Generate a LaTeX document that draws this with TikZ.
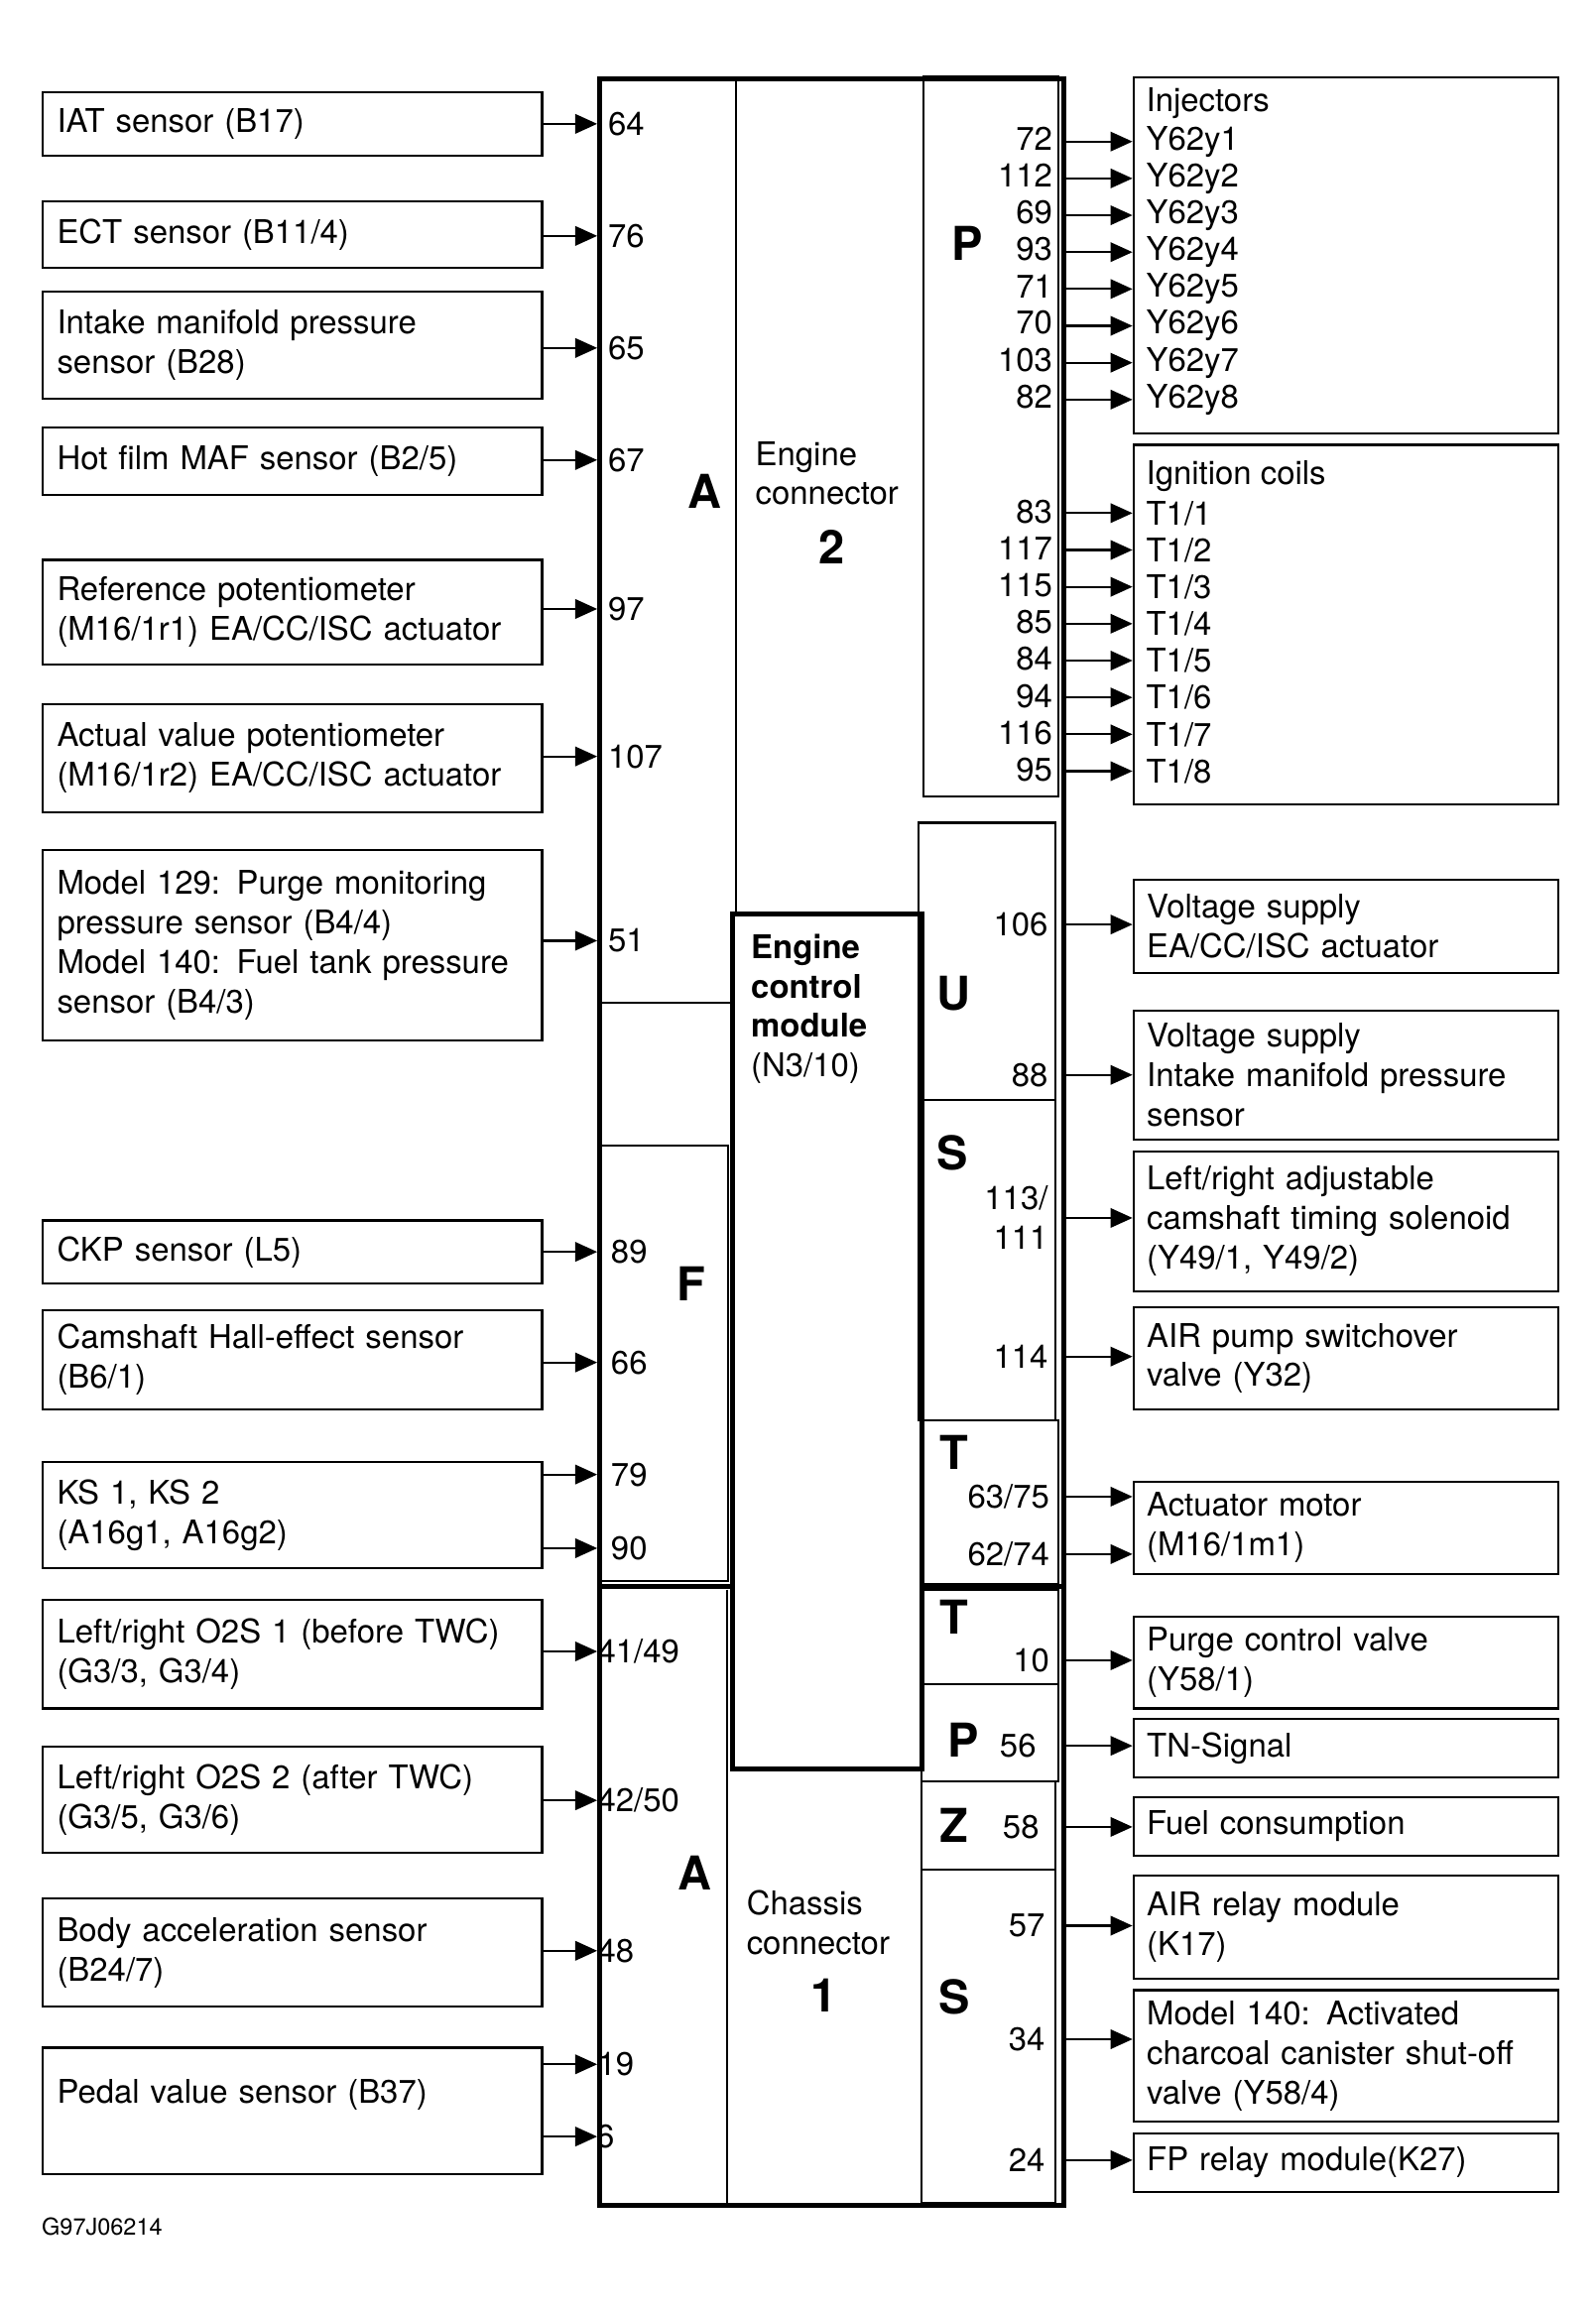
\documentclass[tikz,border=0pt]{standalone}
\usepackage{fontspec}
\setmainfont{TeX Gyre Heros}
\usepackage{tikz}
\usetikzlibrary{positioning,arrows.meta}
\newcommand{\fsz}{\fontsize{12.6pt}{15.3pt}\selectfont}
\newcommand{\fbig}{\fontsize{18pt}{21pt}\selectfont\bfseries}
\tikzset{
  sens/.style={draw, line width=0.8pt, anchor=north west, align=left,
               minimum width=6.78cm, text width=6.38cm, inner xsep=0.2cm, font=\fsz},
  act/.style={draw, line width=0.8pt, anchor=north west, align=left,
              minimum width=5.76cm, text width=5.4cm, inner xsep=0.18cm, font=\fsz},
  line/.style={anchor=west, inner xsep=0.18cm, inner ysep=0pt, font=\fsz},
  pinl/.style={anchor=west, inner sep=0pt, font=\fsz},
  pinr/.style={anchor=east, inner sep=0pt, font=\fsz, align=right},
  big/.style={font=\fbig, inner sep=0pt},
  txt/.style={font=\fsz, align=left, anchor=north west, inner sep=0pt},
  ar/.style={-{Triangle[length=8.5pt,width=7.5pt]}, line width=0.8pt},
  thickln/.style={line width=1.9pt},
  thinln/.style={line width=0.8pt},
}

\begin{document}
\begin{tikzpicture}[x=0.02cm, y=-0.02cm]
    \useasboundingbox (0,0) rectangle (1082,1568);

    % control module outline and its connector blocks
    \node[draw, thickln, anchor=north west, minimum width=6.3cm, minimum height=28.84cm, inner sep=0pt] (ecu) at (405,52) {};
    \draw[thinln] (499,52) -- (499,620);
    \draw[thinln] (405,680) -- (497,680);
    \draw[thinln] (407,777) rectangle (494,1072);
    \draw[thickln] (405,1076) -- (497,1076);
    \draw[thinln] (493,1078) -- (493,1494);
    \draw[thickln] (497,620) rectangle (625,1200);
    \draw[thinln] (626,52) rectangle (718,540);
    \draw[thinln] (623,558) rectangle (716,746);
    \draw[thinln] (623,746) rectangle (716,963);
    \draw[thinln] (625,963) rectangle (718,1074);
    \draw[thickln] (625,1076) -- (720,1076);
    \draw[thinln] (625,1078) rectangle (718,1142);
    \draw[thinln] (625,1142) rectangle (718,1208);
    \draw[thinln] (625,1208) rectangle (716,1268);
    \draw[thinln] (625,1268) rectangle (716,1494);

    % block letters and captions
    \node[big] (engA) at (478,333) {A};
    \node[txt] (ec2) at (512,299) {Engine\\connector};
    \node[big] (ec2n) at (564,371) {2};
    \node[big] (engP) at (656,165) {P};
    \node[big] (engU) at (647,674) {U};
    \node[big] (engS) at (646,782) {S};
    \node[big] (engF) at (469,871) {F};
    \node[big] (engT) at (647,985) {T};
    \node[txt] (ecm) at (509,633) {\textbf{Engine}\\\textbf{control}\\\textbf{module}\\(N3/10)};
    \node[big] (chT) at (647,1097) {T};
    \node[big] (chP) at (653,1180) {P};
    \node[big] (chZ) at (647,1238) {Z};
    \node[big] (chA) at (471,1270) {A};
    \node[big] (chS) at (647,1354) {S};
    \node[txt] (cc1) at (506,1282) {Chassis\\connector};
    \node[big] (cc1n) at (559,1353) {1};

    % inputs
    \node[sens, minimum height=0.86cm] (iat) at (28,62) {IAT sensor (B17)};
    \node[pinl] (p64) at (412,84) {64};
    \node[sens, minimum height=0.9cm] (ect) at (28,136) {ECT sensor (B11/4)};
    \node[pinl] (p76) at (412,160) {76};
    \node[sens, minimum height=1.46cm] (imp) at (28,197) {Intake manifold pressure\\sensor (B28)};
    \node[pinl] (p65) at (412,236) {65};
    \node[sens, minimum height=0.92cm] (maf) at (28,289) {Hot film MAF sensor (B2/5)};
    \node[pinl] (p67) at (412,312) {67};
    \node[sens, minimum height=1.42cm] (rpot) at (28,379) {Reference potentiometer\\(M16/1r1) EA/CC/ISC actuator};
    \node[pinl] (p97) at (412,413) {97};
    \node[sens, minimum height=1.46cm] (apot) at (28,477) {Actual value potentiometer\\(M16/1r2) EA/CC/ISC actuator};
    \node[pinl] (p107) at (412,513) {107};
    \node[sens, minimum height=2.58cm] (purge) at (28,576) {Model 129: Purge monitoring\\pressure sensor (B4/4)\\Model 140: Fuel tank pressure\\sensor (B4/3)};
    \node[pinl] (p51) at (412,638) {51};
    \node[sens, minimum height=0.86cm] (ckp) at (28,827) {CKP sensor (L5)};
    \node[pinl] (p89) at (414,849) {89};
    \node[sens, minimum height=1.34cm] (cmp) at (28,888) {Camshaft Hall-effect sensor\\(B6/1)};
    \node[pinl] (p66) at (414,924) {66};
    \node[sens, minimum height=1.44cm] (ks) at (28,991) {KS 1, KS 2\\(A16g1, A16g2)};
    \node[pinl] (p79) at (414,1000) {79};
    \node[pinl] (p90) at (414,1050) {90};
    \node[sens, minimum height=1.48cm] (o2a) at (28,1084) {Left/right O2S 1 (before TWC)\\(G3/3, G3/4)};
    \node[pinl] (p41) at (405,1120) {41/49};
    \node[sens, minimum height=1.44cm] (o2b) at (28,1184) {Left/right O2S 2 (after TWC)\\(G3/5, G3/6)};
    \node[pinl] (p42) at (405,1221) {42/50};
    \node[sens, minimum height=1.46cm] (bacc) at (28,1287) {Body acceleration sensor\\(B24/7)};
    \node[pinl] (p48) at (405,1323) {48};
    \node[sens, minimum height=1.72cm] (pedal) at (28,1388) {Pedal value sensor (B37)\\\mbox{}};
    \node[pinl] (p19) at (405,1400) {19};
    \node[pinl] (p6) at (404,1449) {6};
    \foreach \s/\p in {iat/p64, ect/p76, imp/p65, maf/p67, rpot/p97, apot/p107, purge/p51,
                      ckp/p89, cmp/p66, ks/p79, ks/p90, o2a/p41, o2b/p42, bacc/p48, pedal/p19, pedal/p6}
      \draw[ar] (\s.east |- \p) -- (ecu.west |- \p);

    % injectors and ignition coils
    \node[act, minimum height=4.82cm] (inj) at (768,52) {};
    \node[line] (injt) at (768,70) {Injectors};
    \foreach \pin [count=\i] in {72,112,69,93,71,70,103,82} {
      \node[line] (y\i) at (768,{96+25*(\i-1)}) {Y62y\i};
      \node[pinr] (pi\i) at (714,{94+25*(\i-1)}) {\pin};
      \draw[ar] (ecu.east |- y\i) -- (y\i.west);
    }
    \node[act, minimum height=4.88cm] (ign) at (768,301) {};
    \node[line] (ignt) at (768,323) {Ignition coils};
    \foreach \pin [count=\i] in {83,117,115,85,84,94,116,95} {
      \node[line] (t\i) at (768,{348+25*(\i-1)}) {T1/\i};
      \node[pinr] (pt\i) at (714,{347+25*(\i-1)}) {\pin};
      \draw[ar] (ecu.east |- t\i) -- (t\i.west);
    }

    % other outputs
    \node[act, minimum height=1.26cm] (vsea) at (768,596) {Voltage supply\\EA/CC/ISC actuator};
    \node[pinr] (p106) at (711,627) {106};
    \node[act, minimum height=1.74cm] (vsim) at (768,685) {Voltage supply\\Intake manifold pressure\\sensor};
    \node[pinr] (p88) at (711,729) {88};
    \node[act, minimum height=1.9cm] (cts) at (768,780) {Left/right adjustable\\camshaft timing solenoid\\(Y49/1, Y49/2)};
    \node[pinr] (p113) at (711,826) {113/\\111};
    \node[act, minimum height=1.38cm] (airv) at (768,886) {AIR pump switchover\\valve (Y32)};
    \node[pinr] (p114) at (711,920) {114};
    \node[act, minimum height=1.26cm] (actm) at (768,1004) {Actuator motor\\(M16/1m1)};
    \node[pinr] (p63) at (712,1015) {63/75};
    \node[pinr] (p62) at (712,1054) {62/74};
    \node[act, minimum height=1.24cm] (pcv) at (768,1096) {Purge control valve\\(Y58/1)};
    \node[pinr] (p10) at (712,1126) {10};
    \node[act, minimum height=0.8cm] (tn) at (768,1165) {TN-Signal};
    \node[pinr] (p56) at (703,1184) {56};
    \node[act, minimum height=0.8cm] (fc) at (768,1218) {Fuel consumption};
    \node[pinr] (p58) at (705,1239) {58};
    \node[act, minimum height=1.4cm] (airr) at (768,1271) {AIR relay module\\(K17)};
    \node[pinr] (p57) at (709,1306) {57};
    \node[act, minimum height=1.78cm] (ccv) at (768,1349) {Model 140: Activated\\charcoal canister shut-off\\valve (Y58/4)};
    \node[pinr] (p34) at (709,1383) {34};
    \node[act, minimum height=0.8cm] (fpr) at (768,1446) {FP relay module(K27)};
    \node[pinr] (p24) at (709,1465) {24};
    \foreach \p/\a in {p106/vsea, p88/vsim, p113/cts, p114/airv, p63/actm, p62/actm, p10/pcv,
                      p56/tn, p58/fc, p57/airr, p34/ccv, p24/fpr}
      \draw[ar] (ecu.east |- \p) -- (\a.west |- \p);

    \node[anchor=west, inner sep=0pt, font=\fontsize{9pt}{11pt}\selectfont] (figid) at (28,1510) {G97J06214};
\end{tikzpicture}
\end{document}
